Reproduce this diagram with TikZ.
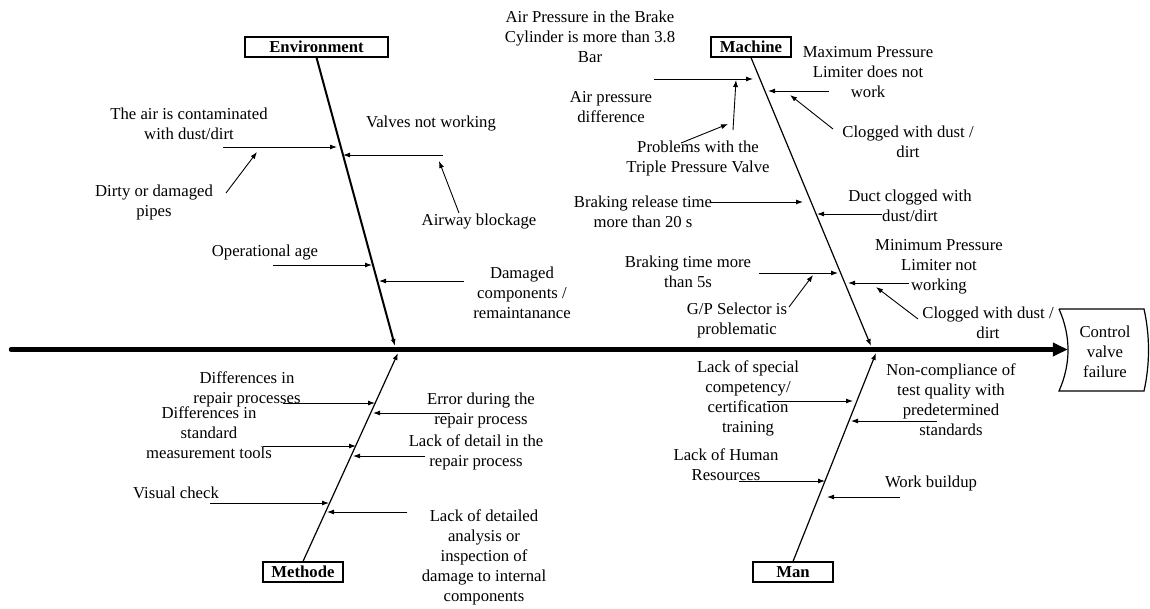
\documentclass[tikz,border=0pt]{standalone}
\usepackage{fontspec}
\setmainfont{Liberation Serif}
\usetikzlibrary{calc,positioning,arrows.meta}

\begin{document}
\begin{tikzpicture}[
    x=1pt, y=-1pt,
    >={Latex[length=7pt,width=5pt]},
    font=\fontsize{16.7}{20}\selectfont,
    catKey/.style={draw, rectangle, line width=1.2pt, minimum width=80pt, minimum height=20pt, inner sep=1pt, font=\fontsize{16.7}{20}\selectfont\bfseries},
    causeText/.style={align=center, inner sep=0pt},
    causeArrow/.style={->, line width=0.9pt},
    bone/.style={->, line width=1.2pt},
    spine/.style={line width=4.5pt, line cap=round, -{Triangle[length=15pt,width=13pt]}},
  ]
  \useasboundingbox (0,0) rectangle (1150,608);

  % categories and effect
  \node[catKey, minimum width=143pt] (envK) at (316.5,47) {Environment};
  \node[catKey] (mchK) at (751,47) {Machine};
  \node[catKey] (metK) at (303,572) {Methode};
  \node[catKey] (manK) at (793,572) {Man};
  \node[causeText, minimum width=74pt] (effect) at (1105,352) {Control\\valve\\failure};
  \draw[line width=1.2pt] (1059,309) -- (1144,309)
    .. controls (1150,336) and (1150,364) .. (1144,391) -- (1059,391)
    .. controls (1071,364) and (1071,336) .. (1059,309);

  % spine and bones
  \coordinate (spineTail) at (11,349.5);
  \draw[spine] (spineTail) -- (spineTail -| effect.west);
  \coordinate (envTip) at (395,346);
  \coordinate (mchTip) at (871,346);
  \coordinate (metTip) at (398,353);
  \coordinate (manTip) at (876,353);
  \draw[bone, line width=2pt] (envK.south) -- (envTip);
  \draw[bone] (mchK.south) -- (mchTip);
  \draw[bone] (metK.north) -- (metTip);
  \draw[bone] (manK.north) -- (manTip);

  % environment causes
  \node[causeText] (airDirt) at (189,124) {The air is contaminated\\with dust/dirt};
  \node[causeText] (pipes) at (154,202) {Dirty or damaged\\pipes};
  \node[causeText] (valves) at (431,124) {Valves not working};
  \node[causeText] (airway) at (479,222) {Airway blockage};
  \node[causeText] (opAge) at (265,253) {Operational age};
  \node[causeText] (damaged) at (522,293) {Damaged\\components /\\remaintanance};
  \coordinate (airDirtS) at (223,147); \coordinate (airDirtE) at (337,147);
  \coordinate (pipesS) at (226,193);   \coordinate (pipesE) at (257,152);
  \coordinate (valvesS) at (443,155);  \coordinate (valvesE) at (343,155);
  \coordinate (airwayS) at (459,213);  \coordinate (airwayE) at (439,161);
  \coordinate (opAgeS) at (273,265);   \coordinate (opAgeE) at (372,265);
  \coordinate (damagedS) at (464,281); \coordinate (damagedE) at (379,281);
  \draw[causeArrow] (airDirtS) -- (airDirtE);
  \draw[causeArrow] (pipesS) -- (pipesE);
  \draw[causeArrow] (valvesS) -- (valvesE);
  \draw[causeArrow] (airwayS) -- (airwayE);
  \draw[causeArrow] (opAgeS) -- (opAgeE);
  \draw[causeArrow] (damagedS) -- (damagedE);

  % machine causes
  \node[causeText] (brakeCyl) at (590,37) {Air Pressure in the Brake\\Cylinder is more than 3.8\\Bar};
  \node[causeText] (airDiff) at (611,107) {Air pressure\\difference};
  \node[causeText] (triple) at (698,158) {Problems with the\\Triple Pressure Valve};
  \node[causeText] (maxLim) at (868,72) {Maximum Pressure\\Limiter does not\\work};
  \node[causeText] (clogA) at (908,142) {Clogged with dust /\\dirt};
  \node[causeText] (release) at (643,212) {Braking release time\\more than 20 s};
  \node[causeText] (duct) at (910,206) {Duct clogged with\\dust/dirt};
  \node[causeText] (minLim) at (939,267) {Minimum Pressure\\Limiter not\\working};
  \node[causeText] (brakeTime) at (688,272) {Braking time more\\than 5s};
  \node[causeText] (gpSel) at (737,320) {G/P Selector is\\problematic};
  \node[causeText] (clogB) at (988,323) {Clogged with dust /\\dirt};
  \coordinate (brakeCylS) at (654,79);  \coordinate (brakeCylE) at (753,79);
  \coordinate (airDiffS) at (733,130);  \coordinate (airDiffE) at (736,80);
  \coordinate (tripleS) at (681,143);   \coordinate (tripleE) at (728,124);
  \coordinate (maxLimS) at (829,91);    \coordinate (maxLimE) at (768,91);
  \coordinate (clogAS) at (833,129);    \coordinate (clogAE) at (790,95);
  \coordinate (releaseS) at (710,202);  \coordinate (releaseE) at (803,202);
  \coordinate (ductS) at (882,214);     \coordinate (ductE) at (817,214);
  \coordinate (minLimS) at (909,283);   \coordinate (minLimE) at (848,283);
  \coordinate (brakeTimeS) at (759,273); \coordinate (brakeTimeE) at (838,273);
  \coordinate (gpSelS) at (789,307);    \coordinate (gpSelE) at (813,275);
  \coordinate (clogBS) at (918,319);    \coordinate (clogBE) at (876,287);
  \draw[causeArrow] (brakeCylS) -- (brakeCylE);
  \draw[causeArrow] (airDiffS) -- (airDiffE);
  \draw[causeArrow] (tripleS) -- (tripleE);
  \draw[causeArrow] (maxLimS) -- (maxLimE);
  \draw[causeArrow] (clogAS) -- (clogAE);
  \draw[causeArrow] (releaseS) -- (releaseE);
  \draw[causeArrow] (ductS) -- (ductE);
  \draw[causeArrow] (minLimS) -- (minLimE);
  \draw[causeArrow] (brakeTimeS) -- (brakeTimeE);
  \draw[causeArrow] (gpSelS) -- (gpSelE);
  \draw[causeArrow] (clogBS) -- (clogBE);

  % methode causes
  \node[causeText] (diffRep) at (247,389) {Differences in\\repair processes};
  \node[causeText] (errRep) at (481,410) {Error during the\\repair process};
  \node[causeText] (diffTool) at (209,433) {Differences in\\standard\\measurement tools};
  \node[causeText] (lackDet) at (476,452) {Lack of detail in the\\repair process};
  \node[causeText] (visual) at (176,493) {Visual check};
  \node[causeText] (lackAna) at (484,557) {Lack of detailed\\analysis or\\inspection of\\damage to internal\\components};
  \coordinate (diffRepS) at (283,403);  \coordinate (diffRepE) at (375,403);
  \coordinate (errRepS) at (450,413);   \coordinate (errRepE) at (373,413);
  \coordinate (diffToolS) at (263,446); \coordinate (diffToolE) at (356,446);
  \coordinate (lackDetS) at (425,456);  \coordinate (lackDetE) at (353,456);
  \coordinate (visualS) at (210,503);   \coordinate (visualE) at (329,503);
  \coordinate (lackAnaS) at (407,512);  \coordinate (lackAnaE) at (327,512);
  \draw[causeArrow] (diffRepS) -- (diffRepE);
  \draw[causeArrow] (errRepS) -- (errRepE);
  \draw[causeArrow] (diffToolS) -- (diffToolE);
  \draw[causeArrow] (lackDetS) -- (lackDetE);
  \draw[causeArrow] (visualS) -- (visualE);
  \draw[causeArrow] (lackAnaS) -- (lackAnaE);

  % man causes
  \node[causeText] (lackSpec) at (748,398) {Lack of special\\competency/\\certification\\training};
  \node[causeText] (nonComp) at (951,400) {Non-compliance of\\test quality with\\predetermined\\standards};
  \node[causeText] (lackHR) at (726,465) {Lack of Human\\Resources};
  \node[causeText] (workB) at (931,483) {Work buildup};
  \coordinate (lackSpecS) at (767,401); \coordinate (lackSpecE) at (853,401);
  \coordinate (nonCompS) at (937,421);  \coordinate (nonCompE) at (851,421);
  \coordinate (lackHRS) at (739,481);   \coordinate (lackHRE) at (825,481);
  \coordinate (workBS) at (900,497);    \coordinate (workBE) at (827,497);
  \draw[causeArrow] (lackSpecS) -- (lackSpecE);
  \draw[causeArrow] (nonCompS) -- (nonCompE);
  \draw[causeArrow] (lackHRS) -- (lackHRE);
  \draw[causeArrow] (workBS) -- (workBE);
\end{tikzpicture}
\end{document}
